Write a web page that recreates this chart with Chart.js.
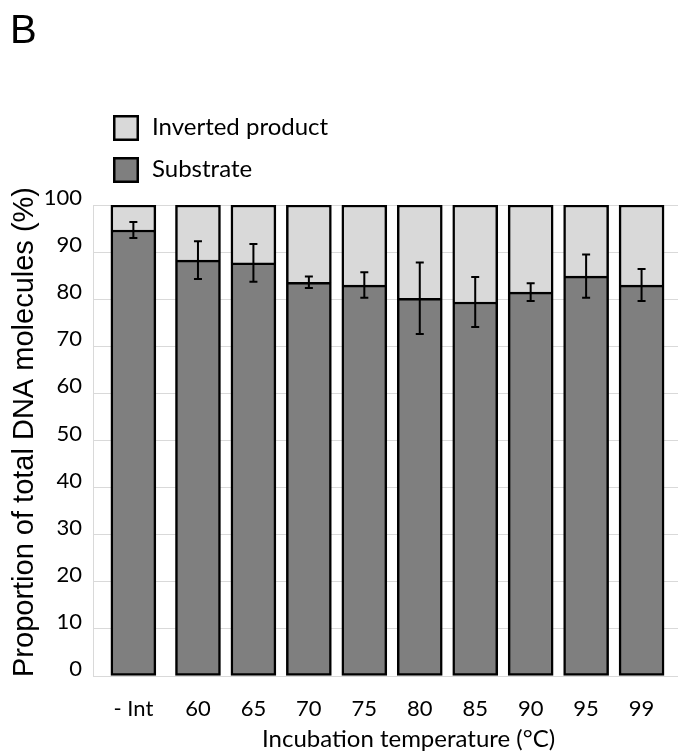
<!DOCTYPE html>
<html>
<head>
<meta charset="utf-8">
<script src="https://cdn.jsdelivr.net/npm/chart.js@4"></script>
<style>
  body { margin: 0; background: #fff; }
  #wrap { width: 678px; height: 753px; position: relative; }
</style>
</head>
<body>
<div id="wrap"><canvas id="myChart"></canvas></div>
<script>
const categories = ['- Int', '60', '65', '70', '75', '80', '85', '90', '95', '99'];
const substrate = [94.7, 88.3, 87.7, 83.6, 83.0, 80.2, 79.4, 81.5, 84.9, 83.0];
const substrateErr = [1.7, 4.0, 4.0, 1.2, 2.7, 7.6, 5.3, 1.9, 4.6, 3.4];
const inverted = [5.3, 11.7, 12.3, 16.4, 17.0, 19.8, 20.6, 18.5, 15.1, 17.0];
const yTicks = [0, 10, 20, 30, 40, 50, 60, 70, 80, 90, 100];

// the "- Int" bar sits a little further left than the regular spacing
const firstGap = 0.165;
const xPos = categories.map((c, i) => i === 0 ? -firstGap : i);

const calibri = 'Lato, "Open Sans", sans-serif';
const arial = '"Liberation Sans", Arial, sans-serif';

const extras = {
  id: 'extras',
  afterDatasetsDraw(chart) {
    const ctx = chart.ctx;
    const y = chart.scales.y;
    const meta = chart.getDatasetMeta(0);
    // error bars on substrate
    ctx.save();
    ctx.strokeStyle = '#000';
    ctx.lineWidth = 2;
    meta.data.forEach((bar, i) => {
      const top = y.getPixelForValue(substrate[i] + substrateErr[i]);
      const bot = y.getPixelForValue(substrate[i] - substrateErr[i]);
      ctx.beginPath();
      ctx.moveTo(bar.x, top); ctx.lineTo(bar.x, bot);
      ctx.moveTo(bar.x - 4, top); ctx.lineTo(bar.x + 4, top);
      ctx.moveTo(bar.x - 4, bot); ctx.lineTo(bar.x + 4, bot);
      ctx.stroke();
    });
    ctx.restore();
  },
  afterDraw(chart) {
    const ctx = chart.ctx;
    ctx.save();
    ctx.fillStyle = '#000';
    // panel letter
    ctx.font = '40px ' + arial;
    ctx.textBaseline = 'alphabetic';
    ctx.fillText('B', 10, 43);
    // x title
    ctx.font = '24px ' + calibri;
    ctx.fillText('Incubation temperature (°C)', 262, 747);
    // y title
    ctx.save();
    ctx.translate(33, 432);
    ctx.rotate(-Math.PI / 2);
    ctx.textAlign = 'center';
    ctx.font = '29px ' + arial;
    ctx.fillText('Proportion of total DNA molecules (%)', 0, 0);
    ctx.restore();
    // legend, top to bottom = reversed stack order
    const ds = chart.data.datasets.slice().reverse();
    ds.forEach((d, i) => {
      const by = 115 + i * 42;
      ctx.fillStyle = d.backgroundColor;
      ctx.fillRect(113, by, 26, 26);
      ctx.lineWidth = 2.5;
      ctx.strokeStyle = '#000';
      ctx.strokeRect(114.25, by + 1.25, 23.5, 23.5);
      ctx.fillStyle = '#000';
      ctx.font = '24px ' + calibri;
      ctx.fillText(d.label, 152, by + 20);
    });
    ctx.restore();
  }
};

new Chart(document.getElementById('myChart'), {
  type: 'bar',
  data: {
    datasets: [{
      label: 'Substrate',
      data: substrate.map((v, i) => ({ x: xPos[i], y: v })),
      backgroundColor: '#7f7f7f',
      borderColor: '#000',
      borderWidth: 2.5,
      borderSkipped: false,
      barThickness: 45
    }, {
      label: 'Inverted product',
      data: inverted.map((v, i) => ({ x: xPos[i], y: v })),
      backgroundColor: '#d9d9d9',
      borderColor: '#000',
      borderWidth: 2.5,
      borderSkipped: 'bottom',
      barThickness: 45
    }]
  },
  options: {
    responsive: true,
    maintainAspectRatio: false,
    animation: false,
    layout: { padding: { top: 205, left: 0, right: 0, bottom: 0 } },
    plugins: { legend: { display: false }, tooltip: { enabled: false } },
    scales: {
      x: {
        type: 'linear',
        stacked: true,
        offset: false,
        min: -0.893,
        max: 9.657,
        grid: { display: false, offset: false },
        border: { display: false },
        afterBuildTicks: (s) => { s.ticks = xPos.map(v => ({ value: v })); },
        afterFit: (s) => { s.height = 77; s.paddingLeft = 0; s.paddingRight = 0; },
        ticks: {
          padding: 12,
          maxRotation: 0,
          autoSkip: false,
          color: '#000',
          font: { family: calibri, size: 22 },
          callback: (v, i) => categories[i]
        }
      },
      y: {
        stacked: true,
        min: 0,
        max: 100,
        afterBuildTicks: (s) => { s.ticks = yTicks.map(v => ({ value: v })); },
        afterFit: (s) => { s.width = 93; s.paddingTop = 0; s.paddingBottom = 0; },
        grid: { color: '#d9d9d9', lineWidth: 1, drawTicks: false },
        border: { display: true, color: '#d9d9d9' },
        ticks: {
          padding: 11,
          labelOffset: -7,
          color: '#000',
          font: { family: calibri, size: 22 }
        }
      }
    }
  },
  plugins: [extras]
});
</script>
</body>
</html>
